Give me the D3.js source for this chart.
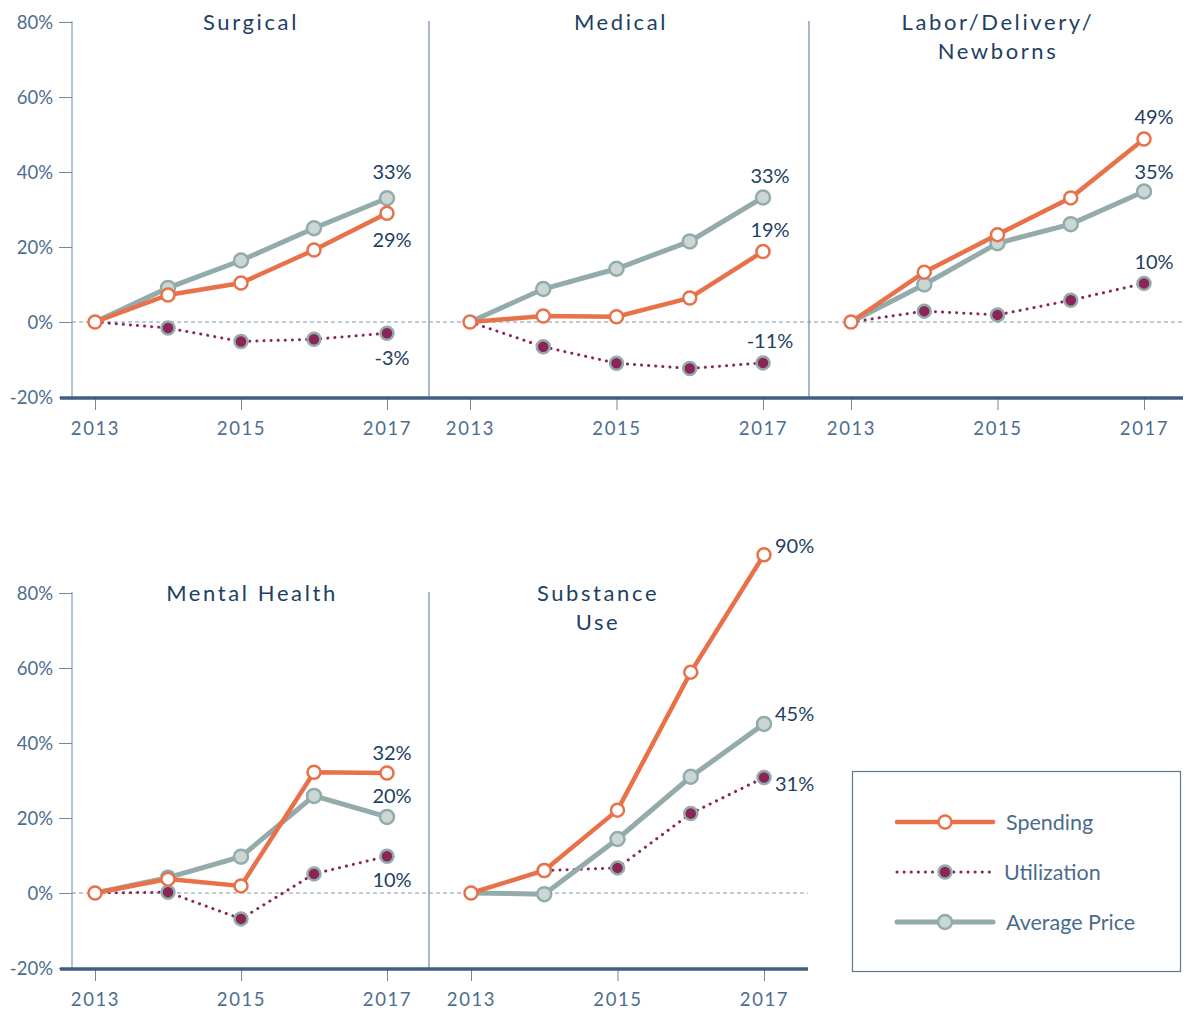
<!DOCTYPE html>
<html><head><meta charset="utf-8">
<script src="https://cdn.jsdelivr.net/npm/d3@7"></script>
<style>
body{margin:0;background:#fff;}
svg{display:block;font-family:Lato,"Open Sans",sans-serif;}
</style></head>
<body><svg id="c" width="1186" height="1013"></svg>
<script>
// ---- data ----
const years = [2013, 2014, 2015, 2016, 2017];
const yTicks = [-20, 0, 20, 40, 60, 80];
const xTicks = [2013, 2015, 2017];
const panelTitles = [["Surgical"], ["Medical"], ["Labor/Delivery/", "Newborns"], ["Mental Health"], ["Substance", "Use"]];
const spending    = [[0, 7.2, 10.4, 19.2, 29], [0, 1.6, 1.4, 6.4, 18.8], [0, 13.3, 23.3, 33.1, 48.8], [0, 3.7, 1.9, 32.2, 32], [0, 6.0, 22.1, 58.9, 90.2]];
const utilization = [[0, -1.6, -5.2, -4.6, -3], [0, -6.6, -11, -12.4, -10.9], [0, 2.9, 1.9, 5.8, 10.3], [0, 0.2, -6.9, 5.1, 9.8], [0, 6.0, 6.7, 21.2, 30.8]];
const avgPrice    = [[0, 9.1, 16.4, 25, 33], [0, 8.8, 14.2, 21.5, 33.2], [0, 10, 21, 26.1, 34.8], [0, 4.1, 9.7, 25.9, 20.3], [0, -0.3, 14.4, 31, 45.1]];
const endLabels   = [["33%", "29%", "-3%"], ["33%", "19%", "-11%"], ["49%", "35%", "10%"], ["32%", "20%", "10%"], ["90%", "45%", "31%"]];
const legendNames = ["Spending", "Utilization", "Average Price"];

// ---- layout / style ----
const C = {orange:"#e8714a", grey:"#93abab", greyFill:"#ccd6d5", maroon:"#8b2558", navy:"#1e3f63", tick:"#4d6d8f", axis:"#6f89a3", thick:"#3f5f82", dash:"#7f97b0"};
const rows = [{top:22, bot:397, axisY:398, x0:60, x1:1183, sep:[429, 809], dashX1:1183},
              {top:593, bot:968, axisY:969, x0:60, x1:808, sep:[429], dashX1:808}];
const panels = [
  {row:0, xr:[95, 387],  tx:250, lab:[{s:"p",dx:5,dy:-26,a:"middle"},{s:"s",dx:5,dy:27,a:"middle"},{s:"u",dx:5,dy:25,a:"middle"}]},
  {row:0, xr:[470, 763], tx:620, lab:[{s:"p",dx:7,dy:-22,a:"middle"},{s:"s",dx:7,dy:-22,a:"middle"},{s:"u",dx:7,dy:-22,a:"middle"}]},
  {row:0, xr:[851, 1144],tx:997, lab:[{s:"s",dx:10,dy:-22,a:"middle"},{s:"p",dx:10,dy:-20,a:"middle"},{s:"u",dx:10,dy:-21,a:"middle"}]},
  {row:1, xr:[95, 387],  tx:251, lab:[{s:"s",dx:5,dy:-20,a:"middle"},{s:"p",dx:5,dy:-21,a:"middle"},{s:"u",dx:5,dy:24,a:"middle"}]},
  {row:1, xr:[471, 764], tx:597, lab:[{s:"s",dx:11,dy:-9,a:"start"},{s:"p",dx:11,dy:-10,a:"start"},{s:"u",dx:11,dy:6,a:"start"}]}
];

const svg = d3.select("#c");

rows.forEach((r, ri) => {
  const y = d3.scaleLinear().domain([-20, 80]).range([r.bot, r.top]);
  r.y = y;
  const g = svg.append("g");
  // zero dashed line
  g.append("line").attr("x1", 72).attr("x2", r.dashX1).attr("y1", y(0)).attr("y2", y(0))
    .attr("stroke", C.dash).attr("stroke-width", 1).attr("stroke-dasharray", "4 3");
  // y axis
  const ya = g.append("g").attr("transform", "translate(72,0)")
    .call(d3.axisLeft(y).tickValues(yTicks).tickSize(13).tickPadding(6).tickFormat(d => d + "%"));
  ya.select(".domain").attr("stroke", C.axis).attr("d", `M0,${r.top - 1}V${r.axisY}`);
  ya.selectAll(".tick line").attr("stroke", C.axis);
  ya.selectAll(".tick text").attr("fill", C.tick).attr("font-size", 18.5).attr("font-family", "Lato").attr("dy", "0.35em");
  // separators
  r.sep.forEach(sx => g.append("line").attr("x1", sx).attr("x2", sx).attr("y1", r.top - 1).attr("y2", r.axisY)
    .attr("stroke", C.axis).attr("stroke-width", 1.2));
  r.g = g;
});

const line = (x, y) => d3.line().x((d, i) => x(years[i])).y(d => y(d));

panels.forEach((p, pi) => {
  const r = rows[p.row];
  const y = r.y;
  const x = d3.scaleLinear().domain([2013, 2017]).range(p.xr);
  const g = svg.append("g");
  // x axis ticks
  const xa = g.append("g").attr("transform", `translate(0,${r.axisY})`)
    .call(d3.axisBottom(x).tickValues(xTicks).tickSize(12).tickPadding(12).tickFormat(d3.format("d")));
  xa.select(".domain").remove();
  xa.selectAll(".tick line").attr("stroke", C.axis);
  xa.selectAll(".tick text").attr("fill", C.tick).attr("font-size", 18.5).attr("font-family", "Lato").attr("letter-spacing", "1.6px");
  // title
  const t = g.append("text").attr("x", p.tx).attr("y", r.top + 8).attr("text-anchor", "middle")
    .attr("fill", C.navy).attr("font-size", 22).attr("letter-spacing", "2.6px");
  panelTitles[pi].forEach((s, k) => t.append("tspan").attr("x", p.tx + 1).attr("dy", k ? 29 : 0).text(s));

  // utilization
  g.append("path").datum(utilization[pi]).attr("d", line(x, y)).attr("fill", "none")
    .attr("stroke", C.maroon).attr("stroke-width", 3).attr("stroke-linecap", "round").attr("stroke-dasharray", "0.1 7");
  g.selectAll(null).data(utilization[pi].slice(1)).join("circle")
    .attr("cx", (d, i) => x(years[i + 1])).attr("cy", d => y(d)).attr("r", 6.5)
    .attr("fill", C.maroon).attr("stroke", C.grey).attr("stroke-width", 2.5);
  // average price
  g.append("path").datum(avgPrice[pi]).attr("d", line(x, y)).attr("fill", "none")
    .attr("stroke", C.grey).attr("stroke-width", 5);
  g.selectAll(null).data(avgPrice[pi].slice(1)).join("circle")
    .attr("cx", (d, i) => x(years[i + 1])).attr("cy", d => y(d)).attr("r", 7)
    .attr("fill", C.greyFill).attr("stroke", C.grey).attr("stroke-width", 2.5);
  // spending
  g.append("path").datum(spending[pi]).attr("d", line(x, y)).attr("fill", "none")
    .attr("stroke", C.orange).attr("stroke-width", 4.5);
  g.selectAll(null).data(spending[pi]).join("circle")
    .attr("cx", (d, i) => x(years[i])).attr("cy", d => y(d)).attr("r", 6.5)
    .attr("fill", "#fff").attr("stroke", C.orange).attr("stroke-width", 2.5);

  // end labels
  const ser = {s: spending[pi], u: utilization[pi], p: avgPrice[pi]};
  p.lab.forEach((L, k) => {
    const v = ser[L.s][4];
    g.append("text").attr("x", x(2017) + L.dx).attr("y", y(v) + L.dy).attr("dy", "0.35em")
      .attr("text-anchor", L.a).attr("fill", C.navy).attr("font-size", 20).text(endLabels[pi][k]);
  });
});

// legend
const lg = svg.append("g");
lg.append("rect").attr("x", 852.5).attr("y", 771.5).attr("width", 328).attr("height", 200)
  .attr("fill", "#fff").attr("stroke", "#5d7793").attr("stroke-width", 1.2);
const ly = d3.scalePoint().domain(legendNames).range([822, 922]);
legendNames.forEach((n, i) => {
  const yy = ly(n);
  if (i === 0) {
    lg.append("line").attr("x1", 897).attr("x2", 993).attr("y1", yy).attr("y2", yy).attr("stroke", C.orange).attr("stroke-width", 4.5).attr("stroke-linecap", "round");
    lg.append("circle").attr("cx", 945).attr("cy", yy).attr("r", 6.5).attr("fill", "#fff").attr("stroke", C.orange).attr("stroke-width", 2.5);
  } else if (i === 1) {
    lg.append("line").attr("x1", 897).attr("x2", 993).attr("y1", yy).attr("y2", yy).attr("stroke", C.maroon).attr("stroke-width", 3).attr("stroke-linecap", "round").attr("stroke-dasharray", "0.1 7");
    lg.append("circle").attr("cx", 945).attr("cy", yy).attr("r", 6.5).attr("fill", C.maroon).attr("stroke", C.grey).attr("stroke-width", 2.5);
  } else {
    lg.append("line").attr("x1", 897).attr("x2", 993).attr("y1", yy).attr("y2", yy).attr("stroke", C.grey).attr("stroke-width", 5).attr("stroke-linecap", "round");
    lg.append("circle").attr("cx", 945).attr("cy", yy).attr("r", 7).attr("fill", C.greyFill).attr("stroke", C.grey).attr("stroke-width", 2.5);
  }
  lg.append("text").attr("x", i === 1 ? 1004 : 1006).attr("y", yy).attr("dy", "0.35em")
    .attr("fill", "#4b6b8d").attr("font-size", 21.5).text(n);
});

// thick bottom axis lines on top
rows.forEach(r => {
  svg.append("line").attr("x1", r.x0).attr("x2", r.x1).attr("y1", r.axisY).attr("y2", r.axisY)
    .attr("stroke", C.thick).attr("stroke-width", 3.5);
});
</script></body></html>
